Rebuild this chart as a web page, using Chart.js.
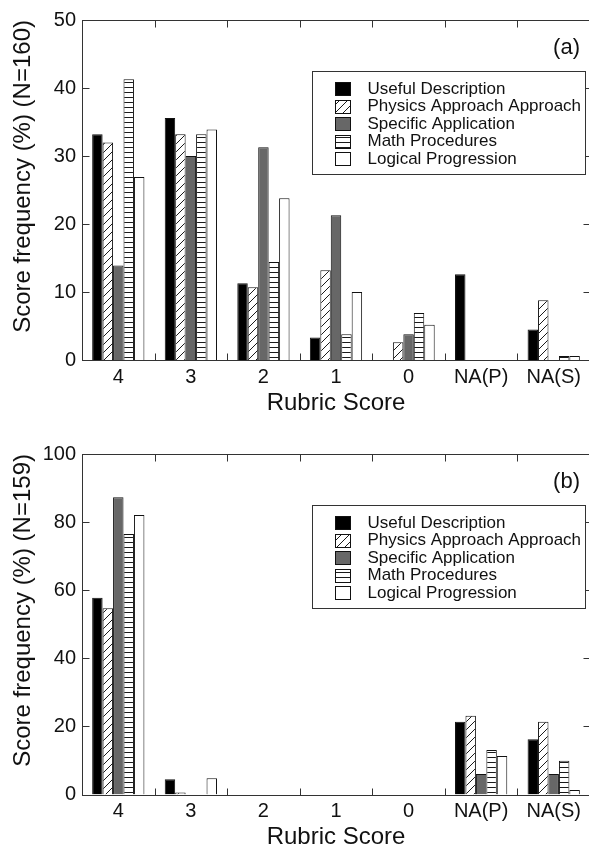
<!DOCTYPE html>
<html><head><meta charset="utf-8">
<script src="https://cdn.jsdelivr.net/npm/chart.js@4.4.1/dist/chart.umd.min.js"></script>
<style>
html,body{margin:0;padding:0;background:#fff;overflow:hidden;}
#wrap{width:589px;height:854px;overflow:hidden;position:relative;background:#fff;}
canvas{display:block;}
</style></head><body>
<div id="wrap">
<canvas id="ca" width="600" height="420"></canvas>
<canvas id="cb" width="600" height="434"></canvas>
</div>
<script>
// ---- data ----
const categories = ['4', '3', '2', '1', '0', 'NA(P)', 'NA(S)'];
const seriesNames = ['Useful Description', 'Physics Approach Approach', 'Specific Application', 'Math Procedures', 'Logical Progression'];

// panel (a), N=160
const usefulA   = [33.2, 35.6, 11.3, 3.3, 0, 12.6, 4.5];
const physicsA  = [32.0, 33.2, 10.7, 13.2, 2.6, 0, 8.8];
const specificA = [13.9, 30.0, 31.3, 21.3, 3.8, 0, 0];
const mathA     = [41.3, 33.2, 14.4, 3.8, 6.9, 0, 0.6];
const logicalA  = [26.9, 33.9, 23.8, 10.0, 5.2, 0, 0.6];

// panel (b), N=159
const usefulB   = [57.8, 4.5, 0, 0, 0, 21.4, 16.2];
const physicsB  = [54.7, 0.6, 0, 0, 0, 23.1, 21.4];
const specificB = [87.3, 0, 0, 0, 0, 6.0, 6.0];
const mathB     = [76.5, 0, 0, 0, 0, 13.1, 9.9];
const logicalB  = [82.1, 4.8, 0, 0, 0, 11.3, 1.3];

const yTicksA = [0, 10, 20, 30, 40, 50];
const yTicksB = [0, 20, 40, 60, 80, 100];
const yTitleA = 'Score frequency (%) (N=160)';
const yTitleB = 'Score frequency (%) (N=159)';
const xTitle = 'Rubric Score';

// ---- styles ----
const FONT = "'Liberation Sans', Arial, Helvetica, sans-serif";
Chart.defaults.font.family = FONT;

function makeHatch(ctx) {
  const c = document.createElement('canvas'); c.width = 8; c.height = 8;
  const g = c.getContext('2d');
  g.fillStyle = '#fff'; g.fillRect(0, 0, 8, 8);
  g.strokeStyle = '#1a1a1a'; g.lineWidth = 1;
  g.beginPath();
  g.moveTo(0, 8); g.lineTo(8, 0);
  g.moveTo(-1, 1); g.lineTo(1, -1);
  g.moveTo(7, 9); g.lineTo(9, 7);
  g.stroke();
  return ctx.createPattern(c, 'repeat');
}
function makeStripes(ctx) {
  const c = document.createElement('canvas'); c.width = 4; c.height = 5;
  const g = c.getContext('2d');
  g.fillStyle = '#fff'; g.fillRect(0, 0, 4, 5);
  g.fillStyle = '#1a1a1a'; g.fillRect(0, 2, 4, 1);
  return ctx.createPattern(c, 'repeat');
}

function buildDatasets(ctx, seriesValues) {
  const fills = ['#000', makeHatch(ctx), '#676767', makeStripes(ctx), '#fff'];
  return seriesValues.map((vals, i) => ({
    label: seriesNames[i],
    data: vals,
    backgroundColor: fills[i],
    borderColor: '#111',
    borderWidth: c => (c.raw > 0 ? 1 : 0),
    categoryPercentage: 0.72,
    barPercentage: 1.0
  }));
}

const decor = {
  id: 'decor',
  afterDraw(chart, args, opts) {
    const { ctx, chartArea: a, scales: { x, y } } = chart;
    ctx.save();
    ctx.strokeStyle = '#333'; ctx.lineWidth = 1;
    const L = Math.round(a.left) + 0.5, T = Math.round(a.top) + 0.5;
    const R = Math.round(a.right) + 0.5, B = Math.round(a.bottom) + 0.5;
    ctx.strokeRect(L, T, R - L, B - T);
    const TL = 7;
    ctx.beginPath();
    y.ticks.forEach(t => {
      if (t.value === y.min || t.value === y.max) return;
      const py = Math.round(y.getPixelForValue(t.value)) + 0.5;
      ctx.moveTo(L, py); ctx.lineTo(L + TL, py);
      ctx.moveTo(R, py); ctx.lineTo(R - TL, py);
    });
    for (let i = 0; i < categories.length - 1; i++) {
      const px = Math.round((x.getPixelForValue(i) + x.getPixelForValue(i + 1)) / 2) + 0.5;
      ctx.moveTo(px, T); ctx.lineTo(px, T + TL);
      ctx.moveTo(px, B); ctx.lineTo(px, B - TL);
    }
    ctx.stroke();

    // panel label
    ctx.fillStyle = '#111';
    ctx.font = '22px ' + FONT;
    ctx.textAlign = 'right'; ctx.textBaseline = 'middle';
    ctx.fillText(opts.panel, a.right - 10, a.top + 28);

    // legend box
    const bx = Math.round(a.left + 230) + 0.5, by = Math.round(a.top + 50.5) + 0.5;
    const bw = 273, bh = 103;
    ctx.fillStyle = '#fff';
    ctx.fillRect(bx, by, bw, bh);
    ctx.strokeStyle = '#333';
    ctx.strokeRect(bx, by, bw, bh);
    ctx.font = '17px ' + FONT;
    ctx.textAlign = 'left';
    chart.data.datasets.forEach((ds, i) => {
      const cy = by + 17 + i * 17.5;
      const sx = bx + 23, sy = Math.round(cy - 6.5) + 0.5;
      ctx.fillStyle = ds.backgroundColor;
      ctx.fillRect(sx, sy, 15, 13);
      ctx.strokeStyle = '#111';
      ctx.strokeRect(sx, sy, 15, 13);
      ctx.fillStyle = '#111';
      ctx.fillText(ds.label, bx + 55, cy + 0.5);
    });
    ctx.restore();
  }
};

function makeChart(id, values, yTicks, yTitle, cfg) {
  const canvas = document.getElementById(id);
  const ctx = canvas.getContext('2d');
  return new Chart(ctx, {
    type: 'bar',
    data: { labels: categories, datasets: buildDatasets(ctx, values) },
    options: {
      responsive: false, animation: false, devicePixelRatio: 1,
      layout: { padding: { left: 0, top: cfg.top, right: canvas.width - 590, bottom: 0 } },
      plugins: { legend: { display: false }, tooltip: { enabled: false }, decor: { panel: cfg.panel } },
      scales: {
        x: {
          grid: { display: false, drawTicks: false }, border: { display: false },
          ticks: { font: { size: 20 }, color: '#111', padding: 5, maxRotation: 0, autoSkip: false },
          title: { display: true, text: xTitle, font: { size: 24 }, color: '#111', padding: { top: 0, bottom: cfg.titlePad } },
          afterFit: s => { s.height = canvas.height - cfg.bottom; }
        },
        y: {
          min: 0, max: yTicks[yTicks.length - 1],
          grid: { display: false, drawTicks: false }, border: { display: false },
          afterBuildTicks: s => { s.ticks = yTicks.map(v => ({ value: v })); },
          ticks: { font: { size: 20 }, color: '#111', padding: 6 },
          title: { display: true, text: yTitle, align: 'end', font: { size: 24 }, color: '#111', padding: { top: 9, bottom: 0 } },
          afterFit: s => { s.width = 82; }
        }
      }
    },
    plugins: [decor]
  });
}

// x title centre target: ~43px below the axis line
makeChart('ca', [usefulA, physicsA, specificA, mathA, logicalA], yTicksA, yTitleA, { top: 20, bottom: 360, titlePad: 420 - 360 - 43 - 14.4, panel: '(a)' });
makeChart('cb', [usefulB, physicsB, specificB, mathB, logicalB], yTicksB, yTitleB, { top: 34, bottom: 374.5, titlePad: 434 - 374.5 - 43 - 14.4, panel: '(b)' });
</script>
</body></html>
